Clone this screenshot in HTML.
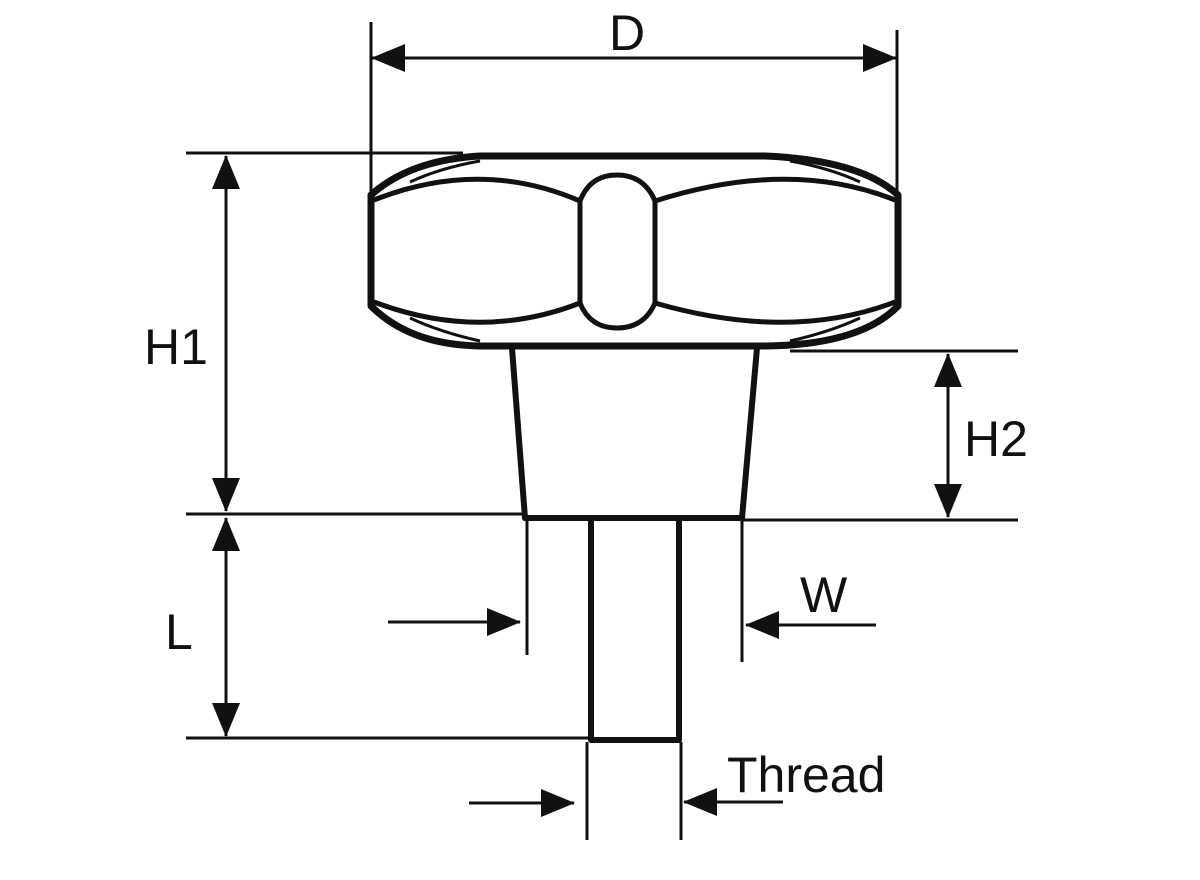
<!DOCTYPE html>
<html><head><style>body{margin:0;background:#fff}svg{display:block}text{font-family:"Liberation Sans",sans-serif;font-size:50px;fill:#111}</style></head>
<body>
<svg width="1200" height="880" viewBox="0 0 1200 880" xmlns="http://www.w3.org/2000/svg">
<defs>
<marker id="a" markerWidth="34" markerHeight="28" refX="33" refY="14" orient="auto" markerUnits="userSpaceOnUse"><path d="M0,0 L34,14 L0,28 Z" fill="#111"/></marker>
</defs>
<g stroke="#111" fill="none" stroke-width="3">
<line x1="371" y1="22" x2="371" y2="195"/>
<line x1="897" y1="30" x2="897" y2="195"/>
<line x1="186" y1="153" x2="463" y2="153"/>
<line x1="186" y1="514" x2="525" y2="514"/>
<line x1="742" y1="520" x2="1018" y2="520"/>
<line x1="790" y1="351" x2="1018" y2="351"/>
<line x1="186" y1="738" x2="590" y2="738"/>
<line x1="527" y1="520" x2="527" y2="655"/>
<line x1="742" y1="520" x2="742" y2="662"/>
<line x1="587" y1="742" x2="587" y2="840"/>
<line x1="681" y1="742" x2="681" y2="840"/>
<line x1="400" y1="58" x2="372" y2="58" marker-end="url(#a)"/>
<line x1="860" y1="58" x2="896" y2="58" marker-end="url(#a)"/>
<line x1="400" y1="58" x2="860" y2="58"/>
<line x1="226" y1="330" x2="226" y2="156" marker-end="url(#a)"/>
<line x1="226" y1="330" x2="226" y2="511" marker-end="url(#a)"/>
<line x1="948" y1="430" x2="948" y2="354" marker-end="url(#a)"/>
<line x1="948" y1="430" x2="948" y2="517" marker-end="url(#a)"/>
<line x1="226" y1="620" x2="226" y2="518" marker-end="url(#a)"/>
<line x1="226" y1="620" x2="226" y2="736" marker-end="url(#a)"/>
<line x1="388" y1="622" x2="520" y2="622" marker-end="url(#a)"/>
<line x1="876" y1="625" x2="746" y2="625" marker-end="url(#a)"/>
<line x1="469" y1="803" x2="574" y2="803" marker-end="url(#a)"/>
<line x1="783" y1="802" x2="684" y2="802" marker-end="url(#a)"/>
</g>
<g stroke="#111" fill="none" stroke-linejoin="round">
<path d="M480,156 L765,156 Q860,160 898,195 L898,306 Q860,345 765,346 L480,346 Q410,345 371,306 L371,195 Q410,160 480,156 Z" stroke-width="7"/>
<path d="M410,182 Q440,168 480,161 M860,182 Q830,168 790,161" stroke-width="3"/>
<path d="M410,318 Q440,332 480,341 M860,318 Q830,332 790,341" stroke-width="3"/>
<path d="M374,200 Q480,158 580,201 M374,302 Q480,342 580,303" stroke-width="5"/>
<path d="M895,200 Q790,158 655,201 M895,302 Q790,342 655,303" stroke-width="5"/>
<path d="M580,201 Q590,175 617,175 Q644,175 655,201 L655,303 Q644,328 617,328 Q590,328 580,303 Z" stroke-width="5"/>
<path d="M512,348 L525,518 L742,518 L757,348" stroke-width="6"/>
<path d="M591,520 L591,740 L679,740 L679,520" stroke-width="6"/>
</g>
<text x="609" y="50">D</text>
<text x="144" y="364">H1</text>
<text x="964" y="456">H2</text>
<text x="165" y="649">L</text>
<text x="800" y="612">W</text>
<text x="727" y="792">Thread</text>
</svg>
</body></html>
